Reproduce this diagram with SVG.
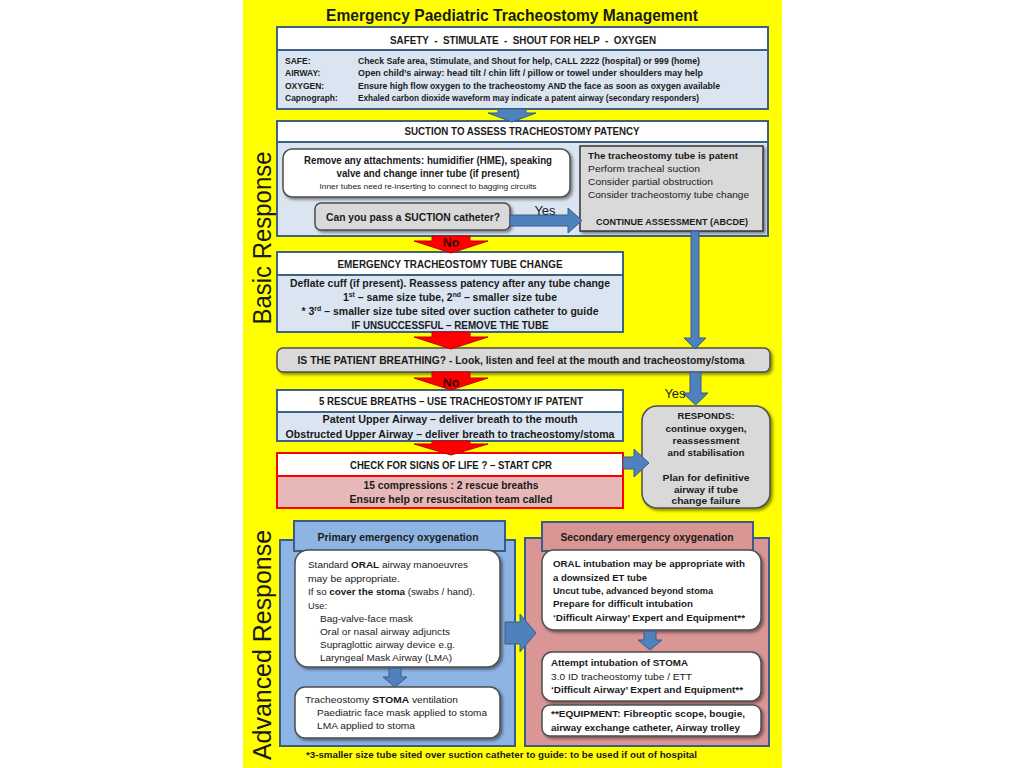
<svg xmlns="http://www.w3.org/2000/svg" width="1024" height="768" viewBox="0 0 1024 768">
<defs>
<filter id="sh" x="-10%" y="-10%" width="130%" height="140%"><feDropShadow dx="2" dy="2" stdDeviation="1.5" flood-color="#000" flood-opacity="0.45"/></filter>
<style>
text{font-family:"Liberation Sans",Arial,sans-serif;fill:#1a1a1a;font-size:9.5px}
.b{font-weight:bold}
.c{text-anchor:middle}
.hd{font-size:10.5px;font-weight:bold;text-anchor:middle}
.lb{fill:#dbe5f1;stroke:#3f6186;stroke-width:2}
.wh{fill:#fff;stroke:#3f6186;stroke-width:2}
.grey{fill:#d9d9d9;stroke:#4d4d4d;stroke-width:1.5}
.wr{fill:#fff;stroke:#4d4d4d;stroke-width:1.5}
.ra{fill:#ff0000;stroke:#c00000;stroke-width:1}
.ba{fill:#4f81bd;stroke:#385d8a;stroke-width:1}
.side{font-size:26px;text-anchor:middle}
.yes{font-size:13px;text-anchor:middle}
.no{font-size:12.5px;font-weight:bold;text-anchor:middle;fill:#400000}
</style>
</defs>
<rect x="243" y="0" width="539" height="768" fill="#ffff00"/>
<text x="512" y="21" class="b c" style="font-size:17px" textLength="372" lengthAdjust="spacingAndGlyphs">Emergency Paediatric Tracheostomy Management</text>

<text class="side" transform="translate(271,238) rotate(-90)" textLength="173" lengthAdjust="spacingAndGlyphs">Basic Response</text>
<text class="side" transform="translate(271,645) rotate(-90)" textLength="230" lengthAdjust="spacingAndGlyphs">Advanced Response</text>

<g id="safety">
<rect x="277" y="27" width="491" height="82" class="lb"/>
<rect x="277" y="27" width="491" height="23" class="wh"/>
<text x="523" y="44" class="hd" style="white-space:pre" textLength="266" lengthAdjust="spacingAndGlyphs">SAFETY  -  STIMULATE  -  SHOUT FOR HELP  -  OXYGEN</text>
<text x="285" y="64" class="b" style="font-size:8.5px">SAFE:</text>
<text x="285" y="76" class="b" style="font-size:8.5px">AIRWAY:</text>
<text x="285" y="89" class="b" style="font-size:8.5px">OXYGEN:</text>
<text x="285" y="101" class="b" style="font-size:8.5px">Capnograph:</text>
<text x="358" y="64" class="b" style="font-size:8.5px" textLength="342" lengthAdjust="spacingAndGlyphs">Check Safe area, Stimulate, and Shout for help, CALL 2222 (hospital) or 999 (home)</text>
<text x="358" y="76" class="b" style="font-size:8.5px" textLength="345" lengthAdjust="spacingAndGlyphs">Open child’s airway: head tilt / chin lift / pillow or towel under shoulders may help</text>
<text x="358" y="89" class="b" style="font-size:8.5px" textLength="362" lengthAdjust="spacingAndGlyphs">Ensure high flow oxygen to the tracheostomy AND the face as soon as oxygen available</text>
<text x="358" y="101" class="b" style="font-size:8.5px" textLength="341" lengthAdjust="spacingAndGlyphs">Exhaled carbon dioxide waveform may indicate a patent airway (secondary responders)</text>
</g>

<g id="suction">
<rect x="277" y="121" width="491" height="115" class="lb"/>
<rect x="277" y="121" width="491" height="21" class="wh"/>
<text x="522" y="135" class="hd" textLength="235" lengthAdjust="spacingAndGlyphs">SUCTION TO ASSESS TRACHEOSTOMY PATENCY</text>
</g>

<g id="remove">
<rect x="283" y="149" width="287" height="48" rx="9" class="wr" filter="url(#sh)"/>
<text x="428" y="164" class="b c" style="font-size:10px" textLength="248" lengthAdjust="spacingAndGlyphs">Remove any attachments: humidifier (HME), speaking</text>
<text x="428" y="177" class="b c" style="font-size:10px" textLength="183" lengthAdjust="spacingAndGlyphs">valve and change inner tube (if present)</text>
<text x="428" y="189" class="c" style="font-size:7.5px" textLength="217" lengthAdjust="spacingAndGlyphs">Inner tubes need re-inserting to connect to bagging circuits</text>
</g>

<g id="pass">
<rect x="315" y="203" width="195" height="27" rx="6" class="grey" filter="url(#sh)"/>
<text x="413" y="221" class="b c" style="font-size:10.5px" textLength="174" lengthAdjust="spacingAndGlyphs">Can you pass a SUCTION catheter?</text>
</g>

<g id="patent">
<rect x="580" y="146" width="183" height="85" class="grey" style="stroke:#333" filter="url(#sh)"/>
<text x="588" y="159" class="b" textLength="150" lengthAdjust="spacingAndGlyphs">The tracheostomy tube is patent</text>
<text x="588" y="172" textLength="112" lengthAdjust="spacingAndGlyphs">Perform tracheal suction</text>
<text x="588" y="185" textLength="125" lengthAdjust="spacingAndGlyphs">Consider partial obstruction</text>
<text x="588" y="198" textLength="161" lengthAdjust="spacingAndGlyphs">Consider tracheostomy tube change</text>
<text x="672" y="225" class="b c" textLength="152" lengthAdjust="spacingAndGlyphs">CONTINUE ASSESSMENT (ABCDE)</text>
</g>

<g id="tubechange">
<rect x="277" y="252" width="346" height="80" class="lb"/>
<rect x="277" y="252" width="346" height="23" class="wh"/>
<text x="450" y="268" class="hd" style="font-size:10px" textLength="225" lengthAdjust="spacingAndGlyphs">EMERGENCY TRACHEOSTOMY TUBE CHANGE</text>
<text x="450" y="287" class="b c" style="font-size:10px" textLength="320" lengthAdjust="spacingAndGlyphs">Deflate cuff (if present). Reassess patency after any tube change</text>
<text x="450" y="301" class="b c" style="font-size:10px" textLength="214" lengthAdjust="spacingAndGlyphs">1<tspan dy="-4" style="font-size:6.5px">st</tspan><tspan dy="4"> – same size tube, 2</tspan><tspan dy="-4" style="font-size:6.5px">nd</tspan><tspan dy="4"> – smaller size tube</tspan></text>
<text x="450" y="315" class="b c" style="font-size:10px" textLength="297" lengthAdjust="spacingAndGlyphs">* 3<tspan dy="-4" style="font-size:6.5px">rd</tspan><tspan dy="4"> – smaller size tube sited over suction catheter to guide</tspan></text>
<text x="450" y="329" class="b c" style="font-size:10px" textLength="197" lengthAdjust="spacingAndGlyphs">IF UNSUCCESSFUL – REMOVE THE TUBE</text>
</g>

<g id="breathing">
<rect x="277" y="348" width="493" height="24" rx="6" class="grey" filter="url(#sh)"/>
<text x="521" y="364" class="b c" style="font-size:10px" textLength="447" lengthAdjust="spacingAndGlyphs">IS THE PATIENT BREATHING? - Look, listen and feel at the mouth and tracheostomy/stoma</text>
</g>

<g id="rescue">
<rect x="277" y="390" width="346" height="51" class="lb"/>
<rect x="277" y="390" width="346" height="22" class="wh"/>
<text x="451" y="405" class="hd" style="font-size:10px" textLength="264" lengthAdjust="spacingAndGlyphs">5 RESCUE BREATHS – USE TRACHEOSTOMY IF PATENT</text>
<text x="450" y="423" class="b c" style="font-size:10px" textLength="255" lengthAdjust="spacingAndGlyphs">Patent Upper Airway – deliver breath to the mouth</text>
<text x="450" y="438" class="b c" style="font-size:10px" textLength="329" lengthAdjust="spacingAndGlyphs">Obstructed Upper Airway – deliver breath to tracheostomy/stoma</text>
</g>

<g id="cpr">
<rect x="277" y="453" width="346" height="55" fill="#e6b9b8" stroke="#ff0000" stroke-width="2"/>
<rect x="277" y="453" width="346" height="23" fill="#fff" stroke="#ff0000" stroke-width="2"/>
<text x="451" y="469" class="hd" style="font-size:10px" textLength="202" lengthAdjust="spacingAndGlyphs">CHECK FOR SIGNS OF LIFE ? – START CPR</text>
<text x="451" y="489" class="b c" style="font-size:10px" textLength="175" lengthAdjust="spacingAndGlyphs">15 compressions : 2 rescue breaths</text>
<text x="451" y="503" class="b c" style="font-size:10px" textLength="203" lengthAdjust="spacingAndGlyphs">Ensure help or resuscitation team called</text>
</g>

<g id="responds">
<rect x="642" y="406" width="128" height="102" rx="15" class="grey" filter="url(#sh)"/>
<text x="706" y="419" class="b c" textLength="57" lengthAdjust="spacingAndGlyphs">RESPONDS:</text>
<text x="706" y="432" class="b c" textLength="81" lengthAdjust="spacingAndGlyphs">continue oxygen,</text>
<text x="706" y="444" class="b c" textLength="67" lengthAdjust="spacingAndGlyphs">reassessment</text>
<text x="706" y="456" class="b c" textLength="77" lengthAdjust="spacingAndGlyphs">and stabilisation</text>
<text x="706" y="481" class="b c" textLength="87" lengthAdjust="spacingAndGlyphs">Plan for definitive</text>
<text x="706" y="493" class="b c" textLength="64" lengthAdjust="spacingAndGlyphs">airway if tube</text>
<text x="706" y="504" class="b c" textLength="69" lengthAdjust="spacingAndGlyphs">change failure</text>
</g>

<g id="primary">
<rect x="280" y="540" width="235" height="206" fill="#8eb4e3" stroke="#385d8a" stroke-width="2"/>
<rect x="294" y="521" width="211" height="30" fill="#8eb4e3" stroke="#385d8a" stroke-width="2"/>
<text x="398" y="541" class="b c" style="font-size:10px" textLength="161" lengthAdjust="spacingAndGlyphs">Primary emergency oxygenation</text>
</g>
<g id="oral">
<rect x="295" y="550" width="205" height="117" rx="13" class="wr" filter="url(#sh)"/>
<text x="308" y="568" textLength="160" lengthAdjust="spacingAndGlyphs">Standard <tspan class="b">ORAL</tspan> airway manoeuvres</text>
<text x="308" y="582" textLength="92" lengthAdjust="spacingAndGlyphs">may be appropriate.</text>
<text x="308" y="595" textLength="167" lengthAdjust="spacingAndGlyphs">If so <tspan class="b">cover the stoma</tspan> (swabs / hand).</text>
<text x="308" y="609" textLength="19" lengthAdjust="spacingAndGlyphs">Use:</text>
<text x="320" y="622" textLength="93" lengthAdjust="spacingAndGlyphs">Bag-valve-face mask</text>
<text x="320" y="635" textLength="130" lengthAdjust="spacingAndGlyphs">Oral or nasal airway adjuncts</text>
<text x="320" y="648" textLength="135" lengthAdjust="spacingAndGlyphs">Supraglottic airway device e.g.</text>
<text x="320" y="661" textLength="132" lengthAdjust="spacingAndGlyphs">Laryngeal Mask Airway (LMA)</text>
</g>
<g id="stoma">
<rect x="295" y="687" width="205" height="51" rx="10" class="wr" filter="url(#sh)"/>
<text x="305" y="703" textLength="153" lengthAdjust="spacingAndGlyphs">Tracheostomy <tspan class="b">STOMA</tspan> ventilation</text>
<text x="317" y="716" textLength="170" lengthAdjust="spacingAndGlyphs">Paediatric face mask applied to stoma</text>
<text x="317" y="729" textLength="98" lengthAdjust="spacingAndGlyphs">LMA applied to stoma</text>
</g>

<g id="secondary">
<rect x="525" y="538" width="244" height="208" fill="#d99694" stroke="#385d8a" stroke-width="2"/>
<rect x="542" y="522" width="211" height="29" fill="#d99694" stroke="#385d8a" stroke-width="2"/>
<text x="647" y="541" class="b c" style="font-size:10px" textLength="173" lengthAdjust="spacingAndGlyphs">Secondary emergency oxygenation</text>
</g>
<g id="intubation">
<rect x="542" y="550" width="219" height="80" rx="12" class="wr" filter="url(#sh)"/>
<text x="553" y="567" class="b" textLength="192" lengthAdjust="spacingAndGlyphs">ORAL intubation may be appropriate with</text>
<text x="553" y="581" class="b" textLength="94" lengthAdjust="spacingAndGlyphs">a downsized ET tube</text>
<text x="553" y="594" class="b" textLength="160" lengthAdjust="spacingAndGlyphs">Uncut tube, advanced beyond stoma</text>
<text x="553" y="607" class="b" textLength="140" lengthAdjust="spacingAndGlyphs">Prepare for difficult intubation</text>
<text x="553" y="621" class="b" textLength="192" lengthAdjust="spacingAndGlyphs">‘Difficult Airway’ Expert and Equipment**</text>
</g>
<g id="stomaintubation">
<rect x="542" y="652" width="219" height="49" rx="10" class="wr" filter="url(#sh)"/>
<text x="551" y="666" class="b" textLength="137" lengthAdjust="spacingAndGlyphs">Attempt intubation of STOMA</text>
<text x="551" y="680" textLength="141" lengthAdjust="spacingAndGlyphs">3.0 ID tracheostomy tube / ETT</text>
<text x="551" y="693" class="b" textLength="192" lengthAdjust="spacingAndGlyphs">‘Difficult Airway’ Expert and Equipment**</text>
</g>
<g id="equipment">
<rect x="542" y="705" width="219" height="31" rx="8" class="wr" filter="url(#sh)"/>
<text x="551" y="717" class="b" textLength="194" lengthAdjust="spacingAndGlyphs">**EQUIPMENT: Fibreoptic scope, bougie,</text>
<text x="551" y="731" class="b" textLength="189" lengthAdjust="spacingAndGlyphs">airway exchange catheter, Airway trolley</text>
</g>

<text x="306" y="758" class="b" textLength="391" lengthAdjust="spacingAndGlyphs">*3-smaller size tube sited over suction catheter to guide: to be used if out of hospital</text>

<g id="connectors">
<path class="ba" d="M498,109 H526 V113 H536 L512,122 L488,113 H498 Z"/>
<path class="ba" d="M510,215 H568 V208 L582,220.5 L568,233 V226 H510 Z"/>
<text x="545" y="215" class="yes">Yes</text>
<path class="ra" d="M432,236 H470 V241 H488 L451,253 L414,241 H432 Z"/>
<text x="451" y="247" class="no">No</text>
<path class="ra" d="M432,332 H470 V337 H488 L451,349 L414,337 H432 Z"/>
<path class="ra" d="M432,372 H470 V378 H488 L451,390 L414,378 H432 Z"/>
<text x="451" y="387" class="no">No</text>
<path class="ra" d="M432,441 H470 V444 H488 L451,455 L414,444 H432 Z"/>
<path class="ba" d="M691,231 H699 V338 H706 L695,349 L684,338 H691 Z"/>
<path class="ba" d="M690,372 H701 V393 H708 L695.5,405 L683,393 H690 Z"/>
<text x="675" y="398" class="yes">Yes</text>
<path class="ba" d="M623,457 H634 V449 L649,463 L634,477 V469 H623 Z"/>
<path class="ba" d="M505,622 H520 V614 L536,633 L520,652 V644 H505 Z"/>
<path class="ba" d="M389,668 H401 V677 H407 L395,687 L383,677 H389 Z"/>
<path class="ba" d="M644,631 H656 V640 H662 L650,650 L638,640 H644 Z"/>
</g>
</svg>
